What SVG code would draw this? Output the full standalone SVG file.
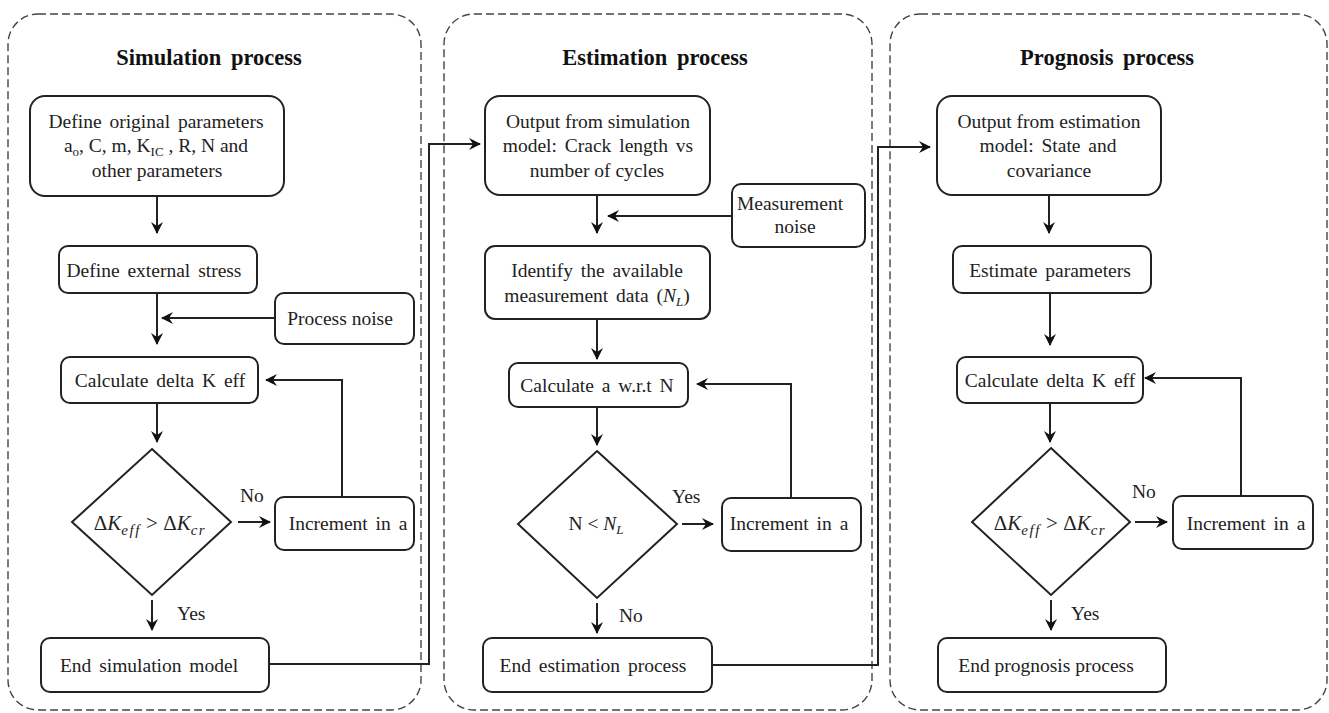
<svg xmlns="http://www.w3.org/2000/svg" width="1329" height="713" viewBox="0 0 1329 713">
<style>
.panel{fill:none;stroke:#444;stroke-width:1.4;stroke-dasharray:8 4}
.box{fill:#fff;stroke:#222;stroke-width:2}
.dia{fill:#fff;stroke:#222;stroke-width:2}
.t{font-family:"Liberation Serif","Times New Roman",serif;font-size:19.5px;fill:#222;text-anchor:middle}
.title{font-family:"Liberation Serif","Times New Roman",serif;font-size:22.5px;font-weight:bold;fill:#111;text-anchor:middle;word-spacing:4px}
.lab{font-family:"Liberation Serif","Times New Roman",serif;font-size:19.5px;fill:#222}
.i{font-style:italic}
.m{font-size:21px}
.sub{font-style:italic;font-size:15px;letter-spacing:1.5px}
.c{fill:none;stroke:#222;stroke-width:2}
</style>
<defs>
<marker id="ah" viewBox="0 0 12 12" refX="11" refY="6" markerWidth="12" markerHeight="12" markerUnits="userSpaceOnUse" orient="auto">
<path d="M0,0 L12,6 L0,12 L4,6 z" fill="#111"/>
</marker>
</defs>
<rect width="1329" height="713" fill="#fff"/>
<g id="panels">
<rect class="panel" x="8" y="14" width="413" height="696" rx="30"/>
<rect class="panel" x="444" y="14" width="428" height="696" rx="30"/>
<rect class="panel" x="890" y="14" width="437" height="696" rx="30"/>
<text class="title" x="209" y="65">Simulation process</text>
<text class="title" x="655" y="65">Estimation process</text>
<text class="title" x="1107" y="65">Prognosis process</text>
</g>
<g id="connectors">
<path class="c" d="M157,196 V233" marker-end="url(#ah)"/>
<path class="c" d="M157,293 V344" marker-end="url(#ah)"/>
<path class="c" d="M275,318 H162" marker-end="url(#ah)"/>
<path class="c" d="M157,403 V442" marker-end="url(#ah)"/>
<path class="c" d="M238,522 H270" marker-end="url(#ah)"/>
<path class="c" d="M342,497 V380 H266" marker-end="url(#ah)"/>
<path class="c" d="M152,600 V630" marker-end="url(#ah)"/>
<path class="c" d="M269,664 H429 V144 H480" marker-end="url(#ah)"/>
<path class="c" d="M597,195 V233" marker-end="url(#ah)"/>
<path class="c" d="M732,216 H608" marker-end="url(#ah)"/>
<path class="c" d="M597,319 V359" marker-end="url(#ah)"/>
<path class="c" d="M597,407 V445" marker-end="url(#ah)"/>
<path class="c" d="M682,524 H713" marker-end="url(#ah)"/>
<path class="c" d="M791,498 V384 H697" marker-end="url(#ah)"/>
<path class="c" d="M597,603 V633" marker-end="url(#ah)"/>
<path class="c" d="M712,665 H878 V147 H930" marker-end="url(#ah)"/>
<path class="c" d="M1049,195 V233" marker-end="url(#ah)"/>
<path class="c" d="M1050,293 V345" marker-end="url(#ah)"/>
<path class="c" d="M1050,403 V442" marker-end="url(#ah)"/>
<path class="c" d="M1135,522 H1167" marker-end="url(#ah)"/>
<path class="c" d="M1241,496 V378 H1145" marker-end="url(#ah)"/>
<path class="c" d="M1051,600 V630" marker-end="url(#ah)"/>
<text class="lab" x="240" y="502">No</text>
<text class="lab" x="177" y="620">Yes</text>
<text class="lab" x="672" y="503">Yes</text>
<text class="lab" x="619" y="622">No</text>
<text class="lab" x="1132" y="498">No</text>
<text class="lab" x="1071" y="620">Yes</text>
</g>
<g id="s-define">
<rect class="box" x="30" y="96" width="254" height="100" rx="15"/>
<text class="t" x="156" y="128" style="word-spacing:3px">Define original parameters</text>
<text class="t" x="156" y="152">a<tspan font-size="13" dy="4">o</tspan><tspan dy="-4">, C, m, K</tspan><tspan font-size="13" dy="4">IC</tspan><tspan dy="-4"> , R, N and</tspan></text>
<text class="t" x="157" y="177">other parameters</text>
</g>
<g id="s-stress">
<rect class="box" x="59" y="246" width="198" height="47" rx="9"/>
<text class="t" x="154" y="277" style="word-spacing:3px">Define external stress</text>
</g>
<g id="s-pnoise">
<rect class="box" x="275" y="293" width="139" height="51" rx="9"/>
<text class="t" x="340" y="325">Process noise</text>
</g>
<g id="s-calc">
<rect class="box" x="61" y="357" width="197" height="46" rx="9"/>
<text class="t" x="160" y="387" style="word-spacing:3px">Calculate delta K eff</text>
</g>
<g id="s-dec">
<polygon class="dia" points="152,449 231,522 152,595 72,522"/>
<text class="t m" x="150" y="530">Δ<tspan class="i">K</tspan><tspan class="sub" dy="5">eff</tspan><tspan dy="-5"> &gt; Δ</tspan><tspan class="i">K</tspan><tspan class="sub" dy="5">cr</tspan></text>
</g>
<g id="s-inc">
<rect class="box" x="275" y="497" width="139" height="53" rx="9"/>
<text class="t" x="348" y="530" style="word-spacing:3px">Increment in a</text>
</g>
<g id="s-end">
<rect class="box" x="41" y="638" width="228" height="54" rx="9"/>
<text class="t" x="149" y="672" style="word-spacing:3px">End simulation model</text>
</g>
<g id="e-output">
<rect class="box" x="485" y="96" width="225" height="99" rx="15"/>
<text class="t" x="598" y="128">Output from simulation</text>
<text class="t" x="598" y="152" style="word-spacing:3px">model: Crack length vs</text>
<text class="t" x="597" y="177">number of cycles</text>
</g>
<g id="e-mnoise">
<rect class="box" x="732" y="184" width="133" height="63" rx="9"/>
<text class="t" x="790" y="210">Measurement</text>
<text class="t" x="795" y="233">noise</text>
</g>
<g id="e-identify">
<rect class="box" x="485" y="246" width="225" height="73" rx="10"/>
<text class="t" x="597" y="277" style="word-spacing:3px">Identify the available</text>
<text class="t" x="597" y="302" style="word-spacing:3px">measurement data (<tspan class="i">N</tspan><tspan class="i" font-size="13" dy="4">L</tspan><tspan dy="-4">)</tspan></text>
</g>
<g id="e-calc">
<rect class="box" x="509" y="363" width="179" height="44" rx="9"/>
<text class="t" x="597" y="392" style="word-spacing:3px">Calculate a w.r.t N</text>
</g>
<g id="e-dec">
<polygon class="dia" points="597,451 677,524 597,598 518,524"/>
<text class="t" x="596" y="530">N &lt; <tspan class="i">N</tspan><tspan class="i" font-size="13" dy="4">L</tspan></text>
</g>
<g id="e-inc">
<rect class="box" x="722" y="498" width="139" height="53" rx="9"/>
<text class="t" x="789" y="530" style="word-spacing:3px">Increment in a</text>
</g>
<g id="e-end">
<rect class="box" x="483" y="638" width="229" height="54" rx="9"/>
<text class="t" x="593" y="672" style="word-spacing:3px">End estimation process</text>
</g>
<g id="p-output">
<rect class="box" x="937" y="96" width="224" height="99" rx="15"/>
<text class="t" x="1049" y="128">Output from estimation</text>
<text class="t" x="1048" y="152" style="word-spacing:3px">model: State and</text>
<text class="t" x="1049" y="177">covariance</text>
</g>
<g id="p-estimate">
<rect class="box" x="953" y="246" width="198" height="47" rx="9"/>
<text class="t" x="1050" y="277" style="word-spacing:3px">Estimate parameters</text>
</g>
<g id="p-calc">
<rect class="box" x="957" y="357" width="186" height="46" rx="9"/>
<text class="t" x="1050" y="387" style="word-spacing:3px">Calculate delta K eff</text>
</g>
<g id="p-dec">
<polygon class="dia" points="1051,448 1130,522 1051,595 972,522"/>
<text class="t m" x="1050" y="530">Δ<tspan class="i">K</tspan><tspan class="sub" dy="5">eff</tspan><tspan dy="-5"> &gt; Δ</tspan><tspan class="i">K</tspan><tspan class="sub" dy="5">cr</tspan></text>
</g>
<g id="p-inc">
<rect class="box" x="1173" y="496" width="140" height="53" rx="9"/>
<text class="t" x="1246" y="530" style="word-spacing:3px">Increment in a</text>
</g>
<g id="p-end">
<rect class="box" x="938" y="638" width="228" height="54" rx="9"/>
<text class="t" x="1046" y="672">End prognosis process</text>
</g>
</svg>
